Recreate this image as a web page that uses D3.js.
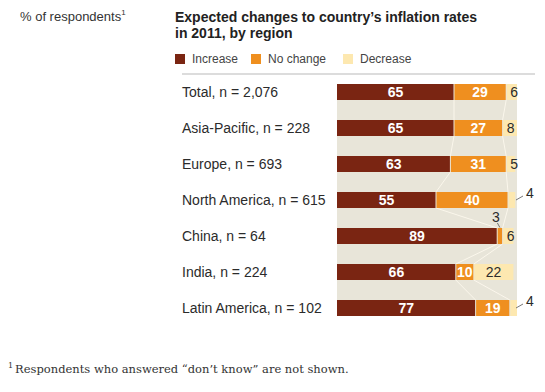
<!DOCTYPE html>
<html>
<head>
<meta charset="utf-8">
<script src="https://cdn.jsdelivr.net/npm/d3@7"></script>
<style>
  body { margin: 0; background: #fff; }
  svg { display: block; }
  text { font-family: "Liberation Sans", Arial, Helvetica, sans-serif; }
</style>
</head>
<body>
<svg id="chart" width="545" height="392"></svg>
<script>
const regions = ["Total, n = 2,076", "Asia-Pacific, n = 228", "Europe, n = 693", "North America, n = 615", "China, n = 64", "India, n = 224", "Latin America, n = 102"];
const increase = [65, 65, 63, 55, 89, 66, 77];
const noChange = [29, 27, 31, 40, 3, 10, 19];
const decrease = [6, 8, 5, 4, 6, 22, 4];
const seriesNames = ["Increase", "No change", "Decrease"];
const colors = ["#7a2512", "#ef8f1f", "#fde8b0"];

const svg = d3.select("#chart");
const textCol = "#2b2b2b";

// Scales
const x = d3.scaleLinear().domain([0, 100]).range([337, 517]);
const y = d3.scaleBand().domain(regions).range([84, 316]).paddingInner(20 / 36).paddingOuter(0);
const bw = y.bandwidth();

// Header
const h = svg.append("text").attr("x", 20).attr("y", 21).attr("font-size", 13).attr("fill", "#333");
h.append("tspan").text("% of respondents");
h.append("tspan").attr("font-size", 8).attr("dy", -6).text("1");

svg.append("text").attr("x", 175).attr("y", 22).attr("font-size", 14).attr("font-weight", "bold").attr("fill", "#222")
  .text("Expected changes to country\u2019s inflation rates");
svg.append("text").attr("x", 175).attr("y", 37.5).attr("font-size", 14).attr("font-weight", "bold").attr("fill", "#222")
  .text("in 2011, by region");

// Legend
const legX = [175, 251, 343];
seriesNames.forEach((s, i) => {
  svg.append("rect").attr("x", legX[i]).attr("y", 54).attr("width", 10).attr("height", 10).attr("fill", colors[i]);
  svg.append("text").attr("x", legX[i] + 17).attr("y", 62.5).attr("font-size", 12).attr("fill", "#444").text(s);
});

// Divider
svg.append("line").attr("x1", 182).attr("x2", 535).attr("y1", 74).attr("y2", 74)
  .attr("stroke", "#dcdcdc").attr("stroke-width", 2);

// Background
svg.append("rect").attr("x", x(0)).attr("y", y(regions[0]))
  .attr("width", x(100) - x(0)).attr("height", y(regions[regions.length - 1]) + bw - y(regions[0]))
  .attr("fill", "#e8e5d9");

// Stacked data
const rows = regions.map((r, i) => ({ region: r, vals: [increase[i], noChange[i], decrease[i]] }));
rows.forEach(d => {
  let c = 0;
  d.segs = d.vals.map((v, k) => { const s = { k, v, x0: c, x1: c + v }; c += v; return s; });
});

// Connector lines between consecutive bars
const conn = svg.append("g");
for (let i = 0; i < rows.length - 1; i++) {
  const a = rows[i], b = rows[i + 1];
  [0, 1].forEach(k => {
    conn.append("line")
      .attr("x1", x(a.segs[k].x1)).attr("y1", y(a.region) + bw)
      .attr("x2", x(b.segs[k].x1)).attr("y2", y(b.region))
      .attr("stroke", "#fbf7ec").attr("stroke-width", 1);
  });
}

// Bars
const g = svg.append("g");
rows.forEach(d => {
  const yy = y(d.region);
  d.segs.forEach(s => {
    g.append("rect")
      .attr("x", x(s.x0) + (s.k > 0 ? 0.5 : 0))
      .attr("y", yy)
      .attr("width", Math.max(0, x(s.x1) - x(s.x0) - (s.k > 0 ? 0.5 : 0) - (s.k < 2 ? 0.5 : 0)))
      .attr("height", bw)
      .attr("fill", colors[s.k]);
  });
});

// Row labels
svg.append("g").selectAll("text").data(regions).join("text")
  .attr("x", 182).attr("y", r => y(r) + bw / 2 + 5)
  .attr("font-size", 14).attr("fill", textCol).text(r => r);

// Value labels
rows.forEach(d => {
  const yy = y(d.region), cy = yy + bw / 2;
  d.segs.forEach(s => {
    const cx = (x(s.x0) + x(s.x1)) / 2;
    if (s.k < 2) {
      if (s.v >= 5) {
        svg.append("text").attr("x", cx).attr("y", cy + 5).attr("text-anchor", "middle")
          .attr("font-size", 14).attr("font-weight", "bold").attr("fill", "#fff").text(s.v);
      } else {
        svg.append("line").attr("x1", cx).attr("y1", yy - 0.5).attr("x2", cx - 2.5).attr("y2", yy - 5)
          .attr("stroke", "#555").attr("stroke-width", 0.8);
        svg.append("text").attr("x", cx - 4).attr("y", yy - 6.5).attr("text-anchor", "middle")
          .attr("font-size", 14).attr("fill", textCol).text(s.v);
      }
    } else {
      if (s.v >= 5) {
        const lx = Math.max(cx, x(s.x0) + 8);
        svg.append("text").attr("x", lx).attr("y", cy + 5).attr("text-anchor", "middle")
          .attr("font-size", 14).attr("fill", textCol).text(s.v);
      } else {
        const x0 = x(100) - 1;
        svg.append("line").attr("x1", x0).attr("y1", yy + bw - 8).attr("x2", x0 + 7).attr("y2", yy + bw - 12)
          .attr("stroke", "#555").attr("stroke-width", 0.8);
        svg.append("text").attr("x", x0 + 10).attr("y", yy + 6).attr("font-size", 14)
          .attr("fill", textCol).text(s.v);
      }
    }
  });
});

// Footnote
const fn = svg.append("text").attr("x", 8).attr("y", 372.5).attr("font-size", 11.5)
  .attr("fill", "#333").style("font-family", "'DejaVu Serif', Georgia, serif");
fn.append("tspan").attr("font-size", 8).attr("dy", -5).text("1");
fn.append("tspan").attr("dy", 5).attr("dx", 2).text("Respondents who answered \u201Cdon\u2019t know\u201D are not shown.");
</script>
</body>
</html>
